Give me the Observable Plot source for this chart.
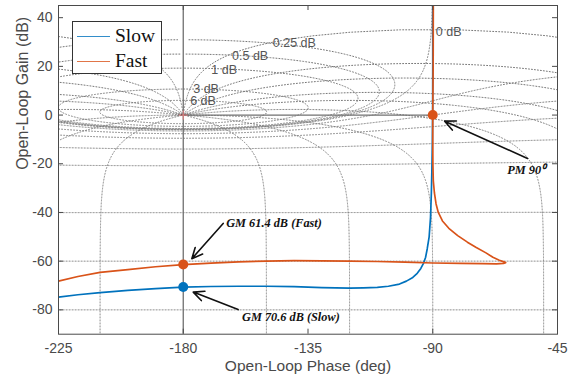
<!DOCTYPE html>
<html><head><meta charset="utf-8">
<script src="https://cdn.jsdelivr.net/npm/d3@7"></script>
<script src="https://cdn.jsdelivr.net/npm/@observablehq/plot@0.6"></script>
<style>
body{margin:0;background:#fff;}
#wrap{position:relative;width:575px;height:377px;}
#legend{position:absolute;left:72px;top:21px;width:88px;height:51px;border:1.3px solid #333;background:#fff;font-family:"Liberation Serif","Times New Roman",serif;font-size:19.5px;color:#111;}
.row{position:absolute;left:0;height:24px;display:flex;align-items:center;}
.sw{width:33px;height:0;border-top:1.2px solid;margin-left:4px;margin-right:5px;}
</style></head><body><div id="wrap"></div>
<script>
// ---- data ----
const xTicks = [-225, -180, -135, -90, -45];
const yTicks = [-80, -60, -40, -20, 0, 20, 40];
const seriesNames = ["Slow", "Fast"];
const seriesColors = ["#0072BD", "#D95319"];

const slowPhase = [-90.0, -90.0, -90.05, -90.15, -90.3, -90.5, -90.8, -91.3, -92.0, -92.6, -93.4, -94.3, -95.6, -97.2, -99.5, -102, -106, -110, -115, -120, -130, -140, -150, -160, -170, -180, -190, -200, -210, -218, -225];
const slowGain  = [45, 20, 0, -12, -22, -32, -42, -50, -55, -58.5, -61, -63, -65, -66.7, -68.2, -69.4, -70.3, -70.8, -71.0, -71.1, -70.9, -70.5, -70.3, -70.3, -70.4, -70.7, -71.3, -72.0, -72.9, -73.8, -74.8];

const fastPhase = [-89.8, -89.85, -90.0, -90.0, -89.95, -89.8, -89.4, -88.8, -88.0, -86.5, -84.2, -81, -77.5, -74.3, -70.8, -68.3, -66, -64.3, -63.7, -64.5, -67, -72, -80, -90, -100, -110, -120, -130, -140, -150, -160, -170, -180, -190, -200, -210, -218, -225];
const fastGain  = [45, 20, 0, -10, -20, -27, -32, -36.5, -40, -43.5, -46.5, -49.5, -52.2, -54.4, -56.6, -58.4, -59.6, -60.3, -60.6, -60.95, -61.1, -61.0, -60.9, -60.75, -60.4, -60.15, -60.0, -59.85, -59.8, -59.95, -60.3, -60.8, -61.4, -62.3, -63.5, -64.6, -66.3, -68.2];

// margin markers
const gmPhase = [-180, -180];
const gmGain = [-61.4, -70.6];
const gmColor = ["#D95319", "#0072BD"];
const pmPhase = [-90];
const pmGain = [0];
const criticalPhase = -180;
const criticalGain = 0;

// annotations
const annoText = ["GM 61.4 dB (Fast)", "GM 70.6 dB (Slow)", "PM 90\u2070"];
const annoX = [-164.5, -158.8, -63.1];
const annoY = [-44.3, -83.0, -22.5];
const arrowX1 = [-165.6, -160.2, -55.8];
const arrowY1 = [-44.5, -79.9, -17.8];
const arrowX2 = [-176.9, -176.4, -85.7];
const arrowY2 = [-59.0, -72.7, -2.5];

// Nichols grid (closed-loop gain and phase contour values)
const gridGainsDb = [6, 3, 1, 0.5, 0.25, 0, -1, -3, -6, -12, -20, -40, -60, -80, -100, -120];
const gridPhasesDeg = [1, 5, 10, 20, 30, 50, 90, 120, 150];
const gridLabelText = ["6 dB", "3 dB", "1 dB", "0.5 dB", "0.25 dB", "0 dB"];
const gridLabelX = [-177.5, -176.4, -169.9, -162.4, -147.7, -88.9];
const gridLabelY = [5.6, 10.9, 18.7, 24.2, 29.4, 34.3];

// ---- grid contours ----
const toDeg = 180 / Math.PI;
function openLoop(M, phi) {
  const tr = M * Math.cos(phi), ti = M * Math.sin(phi);
  const dr = 1 - tr, di = -ti;
  const den = dr * dr + di * di;
  const lr = (tr * dr + ti * di) / den, li = (ti * dr - tr * di) / den;
  return [Math.atan2(li, lr) * toDeg, 10 * Math.log10(lr * lr + li * li)];
}
const gridRows = [];
gridGainsDb.forEach((g, gi) => {
  const M = Math.pow(10, g / 20);
  const N = 3000, pts = [];
  let prev = null;
  for (let i = 0; i < N; i++) {
    const phi = -2 * Math.PI * (i + 0.5) / N;
    let [ph, gn] = openLoop(M, phi);
    if (prev !== null) { while (ph - prev > 180) ph -= 360; while (ph - prev < -180) ph += 360; }
    prev = ph;
    pts.push([ph, gn]);
  }
  const mean = d3.mean(pts, d => d[0]);
  const shift = 360 * Math.round((-180 - mean) / 360);
  pts.forEach(p => gridRows.push({id: "m" + gi, x: p[0] + shift, y: p[1]}));
});
const phaseSet = [];
gridPhasesDeg.forEach(p => { phaseSet.push(-p); phaseSet.push(-(360 - p)); });
phaseSet.forEach((phiDeg, k) => {
  const phi = phiDeg / toDeg;
  let prev = null;
  const N = 4000;
  for (let i = 0; i <= N; i++) {
    const M = Math.pow(10, -7 + 11 * i / N);
    let [ph, gn] = openLoop(M, phi);
    if (prev === null) ph += 360 * Math.round((phiDeg - ph) / 360);
    else { while (ph - prev > 180) ph -= 360; while (ph - prev < -180) ph += 360; }
    prev = ph;
    gridRows.push({id: "n" + k, x: ph, y: gn});
  }
});

// ---- plot ----
const W = 575 - 58 - 18, H = 377 - 5 - 43.3;
const axisColor = "#4a4a4a";
const serif = "Liberation Serif, Times New Roman, serif";
const fmt = d => String(d);
const chart = Plot.plot({
  width: 575, height: 377,
  marginLeft: 58, marginRight: 18, marginTop: 5, marginBottom: 43.3,
  x: {domain: [-225, -45]},
  y: {domain: [-90, 45]},
  style: {fontFamily: "Liberation Sans, Arial, sans-serif", fontSize: "14px", color: axisColor, background: "white"},
  marks: [
    Plot.line(gridRows, {x: "x", y: "y", z: "id", stroke: "#777", strokeWidth: 1, strokeDasharray: "1,2", clip: true}),
    Plot.ruleX([criticalPhase], {stroke: "#707070", strokeWidth: 1.3}),
    Plot.ruleY([criticalGain], {x1: criticalPhase, x2: pmPhase[0], stroke: "#707070", strokeWidth: 1.3}),
    Plot.dot([0], {x: [criticalPhase], y: [criticalGain], symbol: "plus", r: 3, stroke: "#e58080", strokeWidth: 1}),
    Plot.text(gridLabelText, {x: gridLabelX, y: gridLabelY, text: d => d, textAnchor: "start", fontSize: 12.5, fill: "#555"}),
    Plot.line(slowGain, {x: slowPhase, y: slowGain, stroke: seriesColors[0], strokeWidth: 1.7, clip: true}),
    Plot.line(fastGain, {x: fastPhase, y: fastGain, stroke: seriesColors[1], strokeWidth: 1.7, clip: true}),
    Plot.dot(gmGain, {x: gmPhase, y: gmGain, fill: gmColor, r: 5, stroke: null}),
    Plot.dot(pmGain, {x: pmPhase, y: pmGain, fill: seriesColors[1], r: 5, stroke: null}),
    Plot.arrow(annoText, {x1: arrowX1, y1: arrowY1, x2: arrowX2, y2: arrowY2, stroke: "#111", strokeWidth: 1.6, headLength: 11, headAngle: 50}),
    Plot.text(annoText, {x: annoX, y: annoY, text: d => d, textAnchor: "start", fontFamily: serif, fontWeight: "bold", fontStyle: "italic", fontSize: 12.3, fill: "#111"}),
    Plot.frame({stroke: axisColor, strokeWidth: 1}),
    Plot.ruleX(xTicks, {insetTop: H - 5, stroke: axisColor}),
    Plot.ruleX(xTicks, {insetBottom: H - 5, stroke: axisColor}),
    Plot.ruleY(yTicks, {insetRight: W - 5, stroke: axisColor}),
    Plot.ruleY(yTicks, {insetLeft: W - 5, stroke: axisColor}),
    Plot.axisX(xTicks, {anchor: "bottom", tickSize: 0, tickPadding: 9.3, label: null, fontSize: 14, tickFormat: fmt}),
    Plot.axisY(yTicks, {anchor: "left", tickSize: 0, tickPadding: 6, label: null, fontSize: 14, tickFormat: fmt}),
    Plot.text(["Open-Loop Phase (deg)"], {frameAnchor: "bottom", dy: 31.5, lineAnchor: "middle", text: d => d, fontSize: 15.5, fill: axisColor}),
    Plot.text(["Open-Loop Gain (dB)"], {frameAnchor: "left", dx: -35.5, rotate: -90, lineAnchor: "middle", text: d => d, fontSize: 16, fill: axisColor})
  ]
});
const wrap = document.getElementById("wrap");
wrap.appendChild(chart);
const legend = document.createElement("div");
legend.id = "legend";
seriesNames.forEach((name, i) => {
  const row = document.createElement("div");
  row.className = "row";
  row.style.top = (i === 0 ? 2 : 27) + "px";
  const sw = document.createElement("div");
  sw.className = "sw";
  sw.style.borderTopColor = seriesColors[i];
  sw.style.opacity = 0.8;
  const t = document.createElement("span");
  t.textContent = name;
  row.appendChild(sw); row.appendChild(t);
  legend.appendChild(row);
});
wrap.appendChild(legend);
</script>
</body></html>
